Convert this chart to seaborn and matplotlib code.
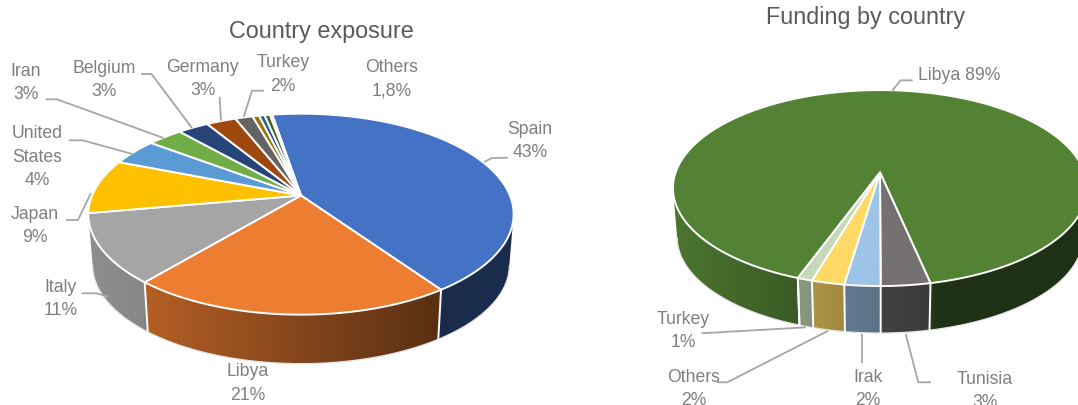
import numpy as np
import matplotlib
matplotlib.use("Agg")
import matplotlib.pyplot as plt
import seaborn as sns
from matplotlib.patches import Polygon

# ---------- data ----------
exposure_names = ["Spain", "Libya", "Italy", "Japan", "United States", "Iran", "Belgium",
                  "Germany", "Turkey", "Others a", "Others b", "Others c", "Others d"]
exposure_values = [43.0, 20.7, 11.1, 8.8, 4.3, 3.2, 2.8, 2.7, 1.6, 0.6, 0.5, 0.5, 0.2]
funding_names = ["Libya", "Tunisia", "Irak", "Others", "Turkey"]
funding_values = [91.1, 3.3, 2.4, 2.2, 1.0]

exposure_title = "Country exposure"
funding_title = "Funding by country"
exposure_labels = ["Spain\n43%", "Libya\n21%", "Italy\n11%", "Japan\n9%", "United\nStates\n4%",
                   "Iran\n3%", "Belgium\n3%", "Germany\n3%", "Turkey\n2%", "Others\n1,8%"]
funding_labels = ["Libya 89%", "Tunisia\n3%", "Irak\n2%", "Others\n2%", "Turkey\n1%"]

# ---------- styles ----------
exposure_colors = sns.color_palette(["#4472C4", "#ED7D31", "#A5A5A5", "#FFC000", "#5B9BD5", "#70AD47",
                                     "#264478", "#9E480E", "#636363", "#997300", "#255E91",
                                     "#43682B", "#DCE6F2"])
funding_colors = sns.color_palette(["#548235", "#767171", "#9DC3E6", "#FFD966", "#C5D9B9"])
TITLE_C, LABEL_C, LEADER_C = "#595959", "#7f7f7f", "#a6a6a6"

sns.set_theme(style="white")
plt.rcParams["font.family"] = ["Liberation Sans", "DejaVu Sans"]

fig = plt.figure(figsize=(10.78, 4.05), dpi=100, facecolor="white")
ax1 = fig.add_axes([0, 0, 540 / 1078, 1])
ax2 = fig.add_axes([540 / 1078, 0, 538 / 1078, 1])
limits = {ax1: (0, 540), ax2: (540, 1078)}
for a in (ax1, ax2):
    a.axis("off")


def pie3d(ax, values, colors, cx, cy, A, B, k, depth, scale, start, knots, shades):
    vals = np.asarray(values, float)
    edges = start + np.concatenate([[0], np.cumsum(vals)]) / vals.sum() * 360

    def top(th):
        t = np.radians(th)
        X, Y = np.sin(t), np.cos(t)
        w = 1 + k * Y
        return cx + A * X / w, cy - B * Y / w

    def bottom(th):
        x, y = top(th)
        return cx + (x - cx) * scale, cy + depth + (y - cy) * scale

    half = A / np.sqrt(1 - k * k)
    # side walls, shaded across the width of the pie (one wall per visible run of angles)
    for i in range(len(vals)):
        th = np.linspace(edges[i], edges[i + 1], 1200)
        visible = np.cos(np.radians(th)) < -k
        splits = np.where(np.diff(visible.astype(int)) != 0)[0] + 1
        for run, mask in zip(np.split(th, splits), np.split(visible, splits)):
            if not mask[0] or len(run) < 2:
                continue
            xt, yt = top(run)
            xb, yb = bottom(run)
            pts = np.column_stack([np.r_[xt, xb[::-1]], np.r_[yt, yb[::-1]]])
            x0, x1 = pts[:, 0].min(), pts[:, 0].max()
            y0, y1 = pts[:, 1].min(), pts[:, 1].max()
            xs = np.linspace(x0, x1, 256)
            f = np.interp((xs - cx) / half, knots, shades)
            img = np.clip(np.outer(f, colors[i]), 0, 1)[None, :, :]
            im = ax.imshow(img, extent=(x0, x1, y1, y0), aspect="auto", zorder=2,
                           interpolation="bilinear")
            im.set_clip_path(Polygon(pts, closed=True, transform=ax.transData))
    # outline of the lower rim and wall separators
    th = np.linspace(0, 360, 721)
    th = th[np.cos(np.radians(th)) < -k]
    ax.plot(*bottom(th), color="#e6e6e6", lw=0.9, zorder=2.5)
    for e in edges:
        if np.cos(np.radians(e)) < -k:
            xa, ya = top(e)
            xb, yb = bottom(e)
            ax.plot([xa, xb], [ya, yb], color="white", lw=1.4, zorder=3)
    # top surface
    for i in range(len(vals)):
        th = np.linspace(edges[i], edges[i + 1], max(3, int((edges[i + 1] - edges[i]) * 2)))
        x, y = top(th)
        pts = np.column_stack([np.r_[cx, x], np.r_[cy, y]])
        ax.add_patch(Polygon(pts, closed=True, facecolor=colors[i], edgecolor="white",
                             lw=1.4, joinstyle="miter", zorder=4))


pie3d(ax1, exposure_values, exposure_colors, 301, 195.5, 208.9, 97, 0.186, 51.4, 0.98, -9.4,
      [-1, -0.74, -0.73, 0.64, 1], [0.86, 0.82, 0.76, 0.38, 0.40])
pie3d(ax2, funding_values, funding_colors, 880, 172.5, 204.4, 95.5, 0.159, 49.3, 0.98, 200,
      [-1, -0.4, 0.0, 0.24, 0.27, 1], [0.9, 0.7, 0.58, 0.5, 0.38, 0.38])

# ---------- leader lines ----------
leaders1 = [[(507.7, 157.7), (492, 158), (484, 162)], [(141, 74), (151.5, 74), (192, 128)],
            [(219.6, 97), (221, 120.7)], [(264, 90.7), (252, 90.7), (243.7, 117)],
            [(45.8, 99.3), (56.8, 99.3), (163.5, 138)], [(68.8, 140.3), (82.6, 140.3), (132.5, 154)],
            [(66, 220), (78, 220), (91, 193)], [(81.6, 293.3), (96.4, 293.3), (108.4, 296.7)]]
leaders2 = [[(912.7, 80.3), (900.7, 80.3), (892.3, 90.7)], [(701.7, 333.3), (806, 327.3)],
            [(716.7, 382.3), (727.3, 382.3), (828.3, 330.7)], [(862.3, 363.3), (862.3, 334)],
            [(931, 382.3), (918.3, 382.3), (905.7, 334)]]
for ax, group in ((ax1, leaders1), (ax2, leaders2)):
    for pts in group:
        xs, ys = zip(*pts)
        ax.plot(xs, ys, color=LEADER_C, lw=1.3, zorder=5, solid_capstyle="butt")

# ---------- text ----------
pos1 = [(530, 141), (248, 383.5), (61, 299), (35, 226), (37, 157),
        (26, 83), (104, 80), (202.5, 79), (283, 74.5), (392, 79)]
pos2 = [(959, 75), (985, 391), (868, 389), (694, 389), (683, 331)]
for ax, labels, pos in ((ax1, exposure_labels, pos1), (ax2, funding_labels, pos2)):
    for s, (x, y) in zip(labels, pos):
        ax.text(x, y, s, ha="center", va="center", color=LABEL_C, fontsize=12.7,
                linespacing=1.5, zorder=6, clip_on=False)

ax1.set_title(exposure_title, x=321 / 540, y=1 - 38 / 405, color=TITLE_C, fontsize=16.8, pad=0)
ax2.set_title(funding_title, x=(866 - 540) / 538, y=1 - 24 / 405, color=TITLE_C, fontsize=16.8, pad=0)

for a, (l, r) in limits.items():
    a.set(xlim=(l, r), ylim=(405, 0))

fig.savefig("out.png", dpi=100)
